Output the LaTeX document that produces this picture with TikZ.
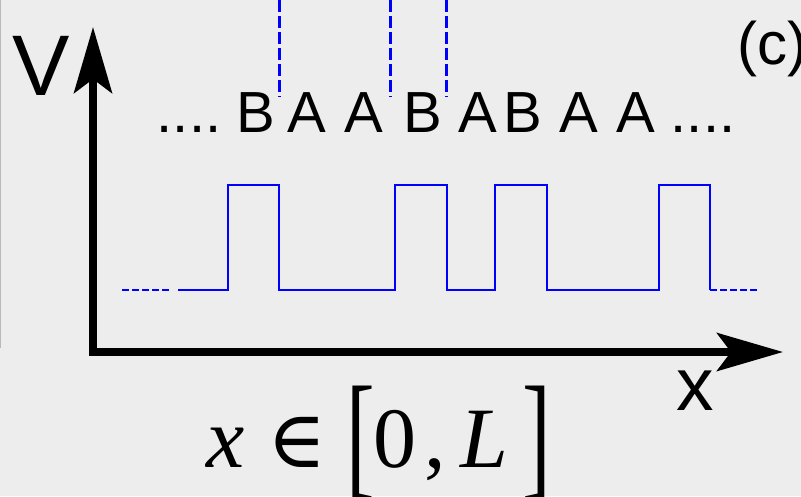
\documentclass[tikz,border=0pt]{standalone}
\usepackage{fontspec}
\usepackage{graphicx}
\setmainfont{Liberation Sans}
\newfontfamily\timesfont{Liberation Serif}
\newfontfamily\symfont{DejaVu Serif}
\usetikzlibrary{arrows.meta}
\definecolor{paper}{RGB}{237,237,237}
\tikzset{axis/.style = {line width=7.5pt,
                        -{Stealth[length=66pt,width=38pt,inset=14pt]}}}
\tikzset{pulse/.style = {blue, line width=2.5pt}}
\tikzset{pulsedash/.style = {pulse, dash pattern=on 7pt off 3pt}}
\tikzset{cut/.style = {blue, line width=3pt, dash pattern=on 12pt off 4pt}}
\tikzset{letter/.style = {anchor=base, inner sep=0,
                          font=\fontsize{58}{60}\selectfont}}
\tikzset{formula/.style = {anchor=base, inner sep=0,
                           font=\timesfont\fontsize{86}{90}\selectfont}}

\begin{document}
\begin{tikzpicture}[x=1pt,y=-1pt]
      \fill[paper] (0,0) rectangle (801,496);
      \useasboundingbox (0,0) rectangle (801,496);
      \draw[gray!55, line width=1pt] (0.5,0) -- (0.5,348);
      \coordinate (ybot) at (93,355.75);
      \coordinate (ytip) at (93,27);
      \coordinate (xbot) at (89.25,352);
      \coordinate (xtip) at (783,352);
      \draw[axis] (ybot) -- (ytip);
      \draw[axis] (xbot) -- (xtip);
      \draw[cut] (279,0) -- (279,97);
      \draw[cut] (390,0) -- (390,97);
      \draw[cut] (446,0) -- (446,97);
      \draw[pulsedash] (122,290) -- (172,290);
      \draw[pulse] (178,290) -- (228,290) -- (228,185) -- (279,185)
        -- (279,290) -- (395,290) -- (395,185) -- (447,185) -- (447,290)
        -- (495,290) -- (495,185) -- (547,185) -- (547,290) -- (659,290)
        -- (659,185) -- (710,185) -- (710,290);
      \draw[pulsedash] (710,290) -- (760,290);
      \node[letter] (dotsl) at (189,132) {....};
      \node[letter] (b1) at (256,132) {B};
      \node[letter] (a1) at (307,132) {A};
      \node[letter] (a2) at (364,132) {A};
      \node[letter] (b2) at (423,132) {B};
      \node[letter] (a3) at (478,132) {A};
      \node[letter] (b3) at (523,132) {B};
      \node[letter] (a4) at (579,132) {A};
      \node[letter] (a5) at (636,132) {A};
      \node[letter] (dotsr) at (703,132) {....};
      \node[anchor=base, inner sep=0, font=\fontsize{86}{90}\selectfont]
        (vlab) at (41,95) {V};
      \node[anchor=base, inner sep=0, font=\fontsize{75}{80}\selectfont]
        (xlab) at (695,410) {x};
      \node[anchor=base west, inner sep=0, font=\fontsize{60}{64}\selectfont]
        (panel) at (737,64) {(c)};
      \node[formula] (fx) at (226,467) {\textit{x}};
      \node[formula, font=\symfont\fontsize{80}{84}\selectfont]
        (fin) at (297,467) {∈};
      \node[formula] (flb) at (361,467) {\raisebox{-14pt}{\scalebox{1}[1.6]{[}}};
      \node[formula] (fzero) at (395,467) {0};
      \node[formula] (fcomma) at (435,467) {,};
      \node[formula] (fL) at (484,467) {\textit{L}};
      \node[formula] (frb) at (537,467) {\raisebox{-14pt}{\scalebox{1}[1.6]{]}}};
    \end{tikzpicture}
\end{document}
